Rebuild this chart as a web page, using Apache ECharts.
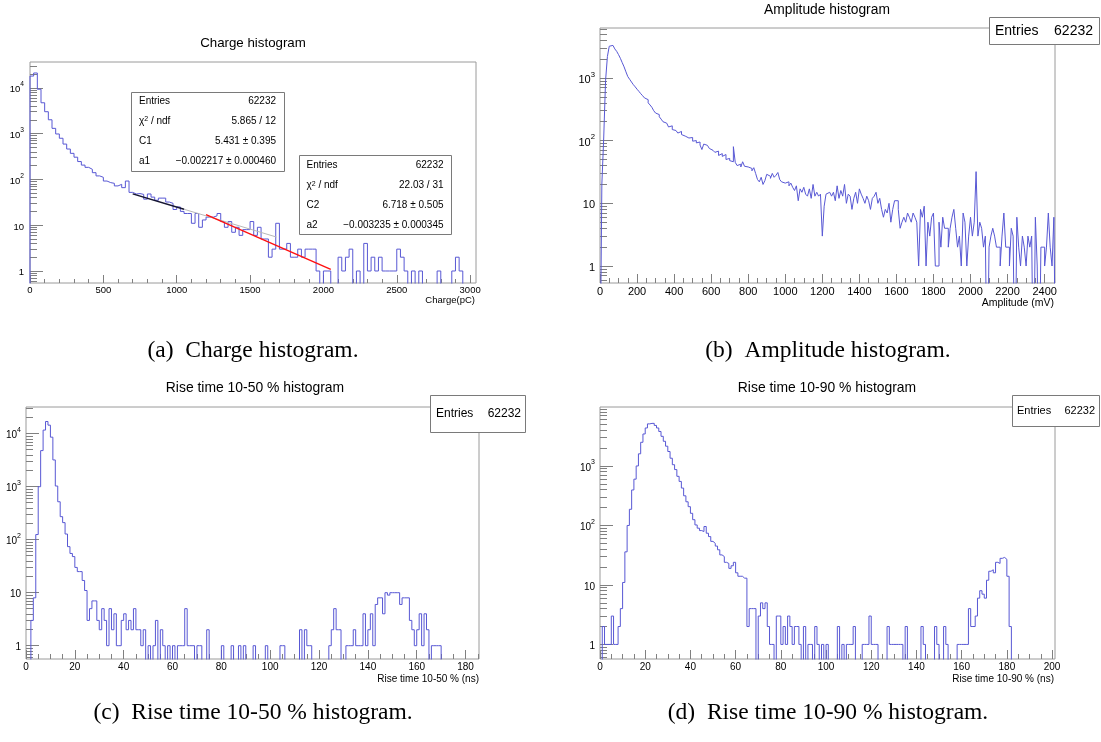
<!DOCTYPE html>
<html><head><meta charset="utf-8">
<script src="https://cdn.jsdelivr.net/npm/echarts@6/dist/echarts.min.js"></script>
<style>html,body{margin:0;padding:0;background:#fff}#c{width:1101px;height:742px}</style>
</head><body><div id="c"></div>
<script>
// ---------------- DATA ----------------
const chargeBinWidth = 25; // pC
const chargeCounts = [
18000,21000,9300,4700,3000,2000,1300,980,790,590,
460,370,305,245,205,183,166,140,119,111,
92,85,82,72,78,66,92,52,48,49,
47,37,48,41,35,39,39,32,30,22,
25,20,18,18,11,18,9,13,15,15,
16,18,12,9,12,7,9,6,8,8,
12,6,9,5,5,2,3,11,3,3,
4,2,2,3,2,3,3,3,1,0,
1,1,0,0,2,1,2,3,0,1,
0,4,1,2,1,2,1,1,1,1,
3,2,1,0,1,0,1,0,0,0,
0,1,0,0,0,1,2,1,0,0,
0,0];

const amplitudeBinWidth = 10; // mV
const amplitudeCounts = [
0,20,110,900,2200,3200,3300,3150,2900,2650,
2350,2050,1750,1500,1250,1050,950,860,780,720,
660,610,560,520,480,450,400,370,340,300,
275,260,240,220,200,190,180,165,172,150,
145,150,132,140,125,118,125,110,105,112,
98,100,92,95,85,72,88,84,86,75,
70,72,65,68,58,62,56,60,50,52,
48,46,80,45,40,42,38,46,39,38,
40,36,33,37,30,24,22,26,20,23,
29,27,25,30,26,28,31,24,22,21,
20,22,19,21,18,16,19,11,17,15,
18,14,13,17,12,20,13,15,13,14,
3,9,14,15,16,13,15,11,19,12,
16,13,20,10,14,13,8,12,15,10,
17,14,12,10,13,11,8,12,13,15,
10,12,8,6,8,7,10,5,8,11,
11,8,4,5,6,5,7,6,5,7,
6,5,1,8,6,9,1,5,3,6,
7,1,1,5,2,6,4,4,2,4,
6,8,4,2,3,1,7,5,1,3,
6,3,5,32,3,5,4,2,3,0,
2,3,4,3,2,2,1,3,7,2,
2,1,4,3,0,6,2,1,3,2,
1,3,2,3,0,6,1,0,2,2,
1,2,7,2,1,6];

const rise1050BinWidth = 1; // ns
const rise1050Counts = [
0,0,3,8,125,1000,4800,11700,17000,14500,
8600,3200,1030,520,272,210,128,74,55,48,
30,25,25,17,11,3,5,7,7,3,
2,5,3,1,5,2,4,1,1,3,
4,2,3,2,5,2,2,1,2,0,
1,0,1,3,0,2,1,0,1,0,
1,0,1,1,1,5,1,1,1,0,
1,1,0,0,2,0,0,0,0,0,
1,0,0,0,1,0,0,1,0,1,
0,0,0,1,0,0,0,0,1,0,
0,0,0,0,1,1,0,0,0,0,
0,0,2,0,2,1,1,0,0,0,
0,0,0,0,1,2,5,2,2,0,
0,1,1,1,2,1,1,1,4,1,
2,4,1,6,8,8,4,10,9,10,
10,10,10,6,8,8,8,3,2,1,
2,4,1,4,2,0,1,1,1,1,
0,0,0,0,0,0,0,0,0,0,
0,0,0,0,0,0];

const rise1090BinWidth = 1; // ns
const rise1090Counts = [
0,2,1,1,1,3,1,1,2,4,
11,36,100,187,395,600,1000,1600,2500,3450,
4350,5100,5200,5200,4800,4350,3800,3150,2600,2150,
1750,1350,1050,870,670,550,425,315,250,207,
160,125,102,90,82,79,96,74,65,54,
50,45,39,32,30,24,23,19,21,24,
16,14,14,13,13,2,4,4,4,0,
3,5,4,5,2,1,1,0,3,3,
1,2,1,3,2,1,2,2,1,0,
2,0,1,1,0,2,1,0,1,0,
1,0,0,0,0,2,0,1,0,1,
1,1,2,0,0,0,1,1,1,3,
1,1,1,0,0,0,0,2,1,1,
1,1,1,1,0,2,0,0,0,0,
0,0,2,1,0,0,0,0,2,1,
0,0,2,1,0,0,0,0,1,1,
1,1,1,4,2,2,3,6,8,7,
6,12,17,18,16,24,23,28,29,27,
14,2,0,0,0,0,0,0,0,0,
0,0,0,0,0,0,0,0,0,0,
0,0];

const chargeTicks = [0,500,1000,1500,2000,2500,3000];
const amplitudeTicks = [0,200,400,600,800,1000,1200,1400,1600,1800,2000,2200,2400];
const rise1050Ticks = [0,20,40,60,80,100,120,140,160,180];
const rise1090Ticks = [0,20,40,60,80,100,120,140,160,180,200];
const decadeTicks = [1,10,100,1000,10000];

const fit1 = {C: 5.431, a: -0.002217, from: 700, to: 1050, drawTo: 1680};
const fit2 = {C: 6.718, a: -0.003235, from: 1200, to: 2050};

const titles = ['Charge histogram','Amplitude histogram','Rise time 10-50 % histogram','Rise time 10-90 % histogram'];
const axisTitles = ['Charge(pC)','Amplitude (mV)','Rise time 10-50 % (ns)','Rise time 10-90 % (ns)'];
const captions = ['(a)  Charge histogram.','(b)  Amplitude histogram.','(c)  Rise time 10-50 % histogram.','(d)  Rise time 10-90 % histogram.'];
const stats1Labels = ['Entries','χ{s|2} / ndf','C1','a1'];
const stats1Values = ['62232','5.865 / 12','5.431 ± 0.395','−0.002217 ± 0.000460'];
const stats2Labels = ['Entries','χ{s|2} / ndf','C2','a2'];
const stats2Values = ['62232','22.03 / 31','6.718 ± 0.505','−0.003235 ± 0.000345'];
const entriesValue = '62232';

// ---------------- LAYOUT / STYLE ----------------
const SANS = 'Liberation Sans, Arial, Helvetica, sans-serif';
const SERIF = 'Liberation Serif, Times New Roman, serif';
const HIST = '#5858d4';
const FRAME = '#9a9a9a';
const TICK = '#808080';
const ZERO = 0.01;

const panels = [
  {left:30, top:62, width:446, height:221, xMin:0, xMax:3040, yMin:0.547, yMax:36500,
   majors: chargeTicks, minorStep:100, fs:9.5, xMargin:2, yMargin:6, yMajLen:13, yMinLen:7, xMajLen:8, xMinLen:4,
   counts: chargeCounts, bw: chargeBinWidth,
   titleX:253, titleY:43.5, titleFs:13.3, axT:[475,300,9.5], capX:253, capY:351},
  {left:600, top:28, width:455, height:255, xMin:0, xMax:2456, yMin:0.536, yMax:6250,
   majors: amplitudeTicks, minorStep:50, fs:11, xMargin:3, yMargin:5, yMajLen:13, yMinLen:7, xMajLen:9, xMinLen:5,
   counts: amplitudeCounts, bw: amplitudeBinWidth,
   titleX:827, titleY:10, titleFs:13.8, axT:[1054,303,10.5], capX:828, capY:351},
  {left:26, top:407, width:453, height:252, xMin:0, xMax:185.5, yMin:0.561, yMax:31900,
   majors: rise1050Ticks, minorStep:5, fs:10, xMargin:3, yMargin:5, yMajLen:13, yMinLen:7, xMajLen:9, xMinLen:5,
   counts: rise1050Counts, bw: rise1050BinWidth,
   titleX:255, titleY:388, titleFs:13.9, axT:[479,679,10], capX:253, capY:713},
  {left:600, top:407, width:455, height:252, xMin:0, xMax:201.3, yMin:0.569, yMax:9800,
   majors: rise1090Ticks, minorStep:5, fs:10, xMargin:3, yMargin:5, yMajLen:13, yMinLen:7, xMajLen:9, xMinLen:5,
   counts: rise1090Counts, bw: rise1090BinWidth,
   titleX:827, titleY:388, titleFs:13.9, axT:[1054,679,10], capX:828, capY:713}
];

function steps(counts, w) {
  const d = [[0, ZERO]];
  counts.forEach((c, i) => d.push([i * w, c > 0 ? c : ZERO]));
  d.push([counts.length * w, ZERO]);
  return d;
}
function minorX(p) {
  const out = [];
  const n = Math.floor(p.xMax / p.minorStep + 1e-9);
  for (let k = 0; k <= n; k++) {
    const v = +(k * p.minorStep).toFixed(6);
    if (p.majors.indexOf(v) < 0) out.push(v);
  }
  return out;
}
function minorY(p) {
  const out = [];
  for (let e = -1; e <= 5; e++) for (let m = 2; m <= 9; m++) {
    const v = +(m * Math.pow(10, e)).toPrecision(6);
    if (v > p.yMin && v < p.yMax) out.push(v);
  }
  return out;
}
function logLabel(v) {
  const e = Math.round(Math.log10(v));
  if (e === 0) return '{b|1}';
  if (e === 1) return '{b|10}';
  return '{b|10}{s|' + e + '}';
}

const grids = [], xAxes = [], yAxes = [], series = [], graphics = [];
panels.forEach((p, i) => {
  grids.push({left:p.left, top:p.top, width:p.width, height:p.height, show:true,
    borderColor:FRAME, borderWidth:1, backgroundColor:'transparent', outerBoundsMode:'none', containLabel:false});
  const xBase = {type:'value', gridIndex:i, min:p.xMin, max:p.xMax, position:'bottom',
    axisLine:{show:false}, splitLine:{show:false}, minorTick:{show:false}};
  xAxes.push(Object.assign({}, xBase, {
    axisTick:{show:true, inside:true, length:p.xMajLen, customValues:p.majors, lineStyle:{color:TICK}},
    axisLabel:{show:true, customValues:p.majors, formatter:v => String(v), fontSize:p.fs, fontFamily:SANS,
      color:'#000', margin:p.xMargin}
  }));
  xAxes.push(Object.assign({}, xBase, {
    axisTick:{show:true, inside:true, length:p.xMinLen, customValues:minorX(p), lineStyle:{color:TICK}},
    axisLabel:{show:false}
  }));
  const yBase = {type:'log', logBase:10, gridIndex:i, min:p.yMin, max:p.yMax, position:'left',
    axisLine:{show:false}, splitLine:{show:false}, minorTick:{show:false}};
  const dec = decadeTicks.filter(v => v >= p.yMin && v <= p.yMax);
  yAxes.push(Object.assign({}, yBase, {
    axisTick:{show:true, inside:true, length:p.yMajLen, customValues:dec, lineStyle:{color:TICK}},
    axisLabel:{show:true, customValues:dec, formatter:logLabel, color:'#000', margin:p.yMargin,
      fontSize:p.fs, fontFamily:SANS,
      rich:{b:{fontSize:p.fs, fontFamily:SANS, color:'#000', lineHeight:p.fs + 4, verticalAlign:'bottom'},
            s:{fontSize:p.fs * 0.7, fontFamily:SANS, color:'#000', lineHeight:p.fs * 0.7, verticalAlign:'top'}}}
  }));
  yAxes.push(Object.assign({}, yBase, {
    axisTick:{show:true, inside:true, length:p.yMinLen, customValues:minorY(p), lineStyle:{color:TICK}},
    axisLabel:{show:false}
  }));
  series.push({type:'line', xAxisIndex:2 * i, yAxisIndex:2 * i, data:steps(p.counts, p.bw), step:'end',
    symbol:'none', showSymbol:false, clip:true, silent:true, animation:false,
    lineStyle:{color:HIST, width:1}, z:2});

  graphics.push({type:'text', x:p.titleX, y:p.titleY, z:100,
    style:{text:titles[i], fontSize:p.titleFs, fontFamily:SANS, fill:'#000', align:'center', verticalAlign:'middle'}});
  graphics.push({type:'text', x:p.axT[0], y:p.axT[1], z:100,
    style:{text:axisTitles[i], fontSize:p.axT[2], fontFamily:SANS, fill:'#000', align:'right', verticalAlign:'middle'}});
  graphics.push({type:'text', x:p.capX, y:p.capY, z:100,
    style:{text:captions[i], fontSize:23.5, fontFamily:SERIF, fill:'#000', align:'center', verticalAlign:'middle'}});
});

// fit curves on the charge histogram (expo: exp(C + a*x))
const f1 = x => Math.exp(fit1.C + fit1.a * x);
const f2 = x => Math.exp(fit2.C + fit2.a * x);
series.push({type:'line', xAxisIndex:0, yAxisIndex:0, data:[[fit1.to, f1(fit1.to)], [fit1.drawTo, f1(fit1.drawTo)]],
  symbol:'none', silent:true, animation:false, lineStyle:{color:'#b8b8b8', width:1}, z:3});
series.push({type:'line', xAxisIndex:0, yAxisIndex:0, data:[[fit1.from, f1(fit1.from)], [fit1.to, f1(fit1.to)]],
  symbol:'none', silent:true, animation:false, lineStyle:{color:'#151530', width:1.4}, z:4});
series.push({type:'line', xAxisIndex:0, yAxisIndex:0, data:[[fit2.from, f2(fit2.from)], [fit2.to, f2(fit2.to)]],
  symbol:'none', silent:true, animation:false, lineStyle:{color:'#ff1010', width:1.4}, z:4});

// stats boxes
function statsBox(bx, by, bw, bh, rows, labels, values, lx, rx, fs) {
  graphics.push({type:'rect', z:90, shape:{x:bx, y:by, width:bw, height:bh},
    style:{fill:'#fff', stroke:'#7a7a7a', lineWidth:1}});
  labels.forEach((t, k) => {
    graphics.push({type:'text', x:lx, y:rows[k], z:100,
      style:{text:t, fontSize:fs, fontFamily:SANS, fill:'#000', align:'left', verticalAlign:'middle',
        rich:{s:{fontSize:fs * 0.7, fontFamily:SANS, fill:'#000', lineHeight:fs * 0.7, verticalAlign:'top'}}}});
    graphics.push({type:'text', x:rx, y:rows[k], z:100,
      style:{text:values[k], fontSize:fs, fontFamily:SANS, fill:'#000', align:'right', verticalAlign:'middle'}});
  });
}
statsBox(131.5, 92.5, 153, 79, [101.5, 121, 141, 161.5], stats1Labels, stats1Values, 139, 276, 10);
statsBox(299.5, 155.5, 152, 79, [165.5, 185.5, 205, 225], stats2Labels, stats2Values, 306.5, 443.5, 10);
statsBox(989.5, 17.5, 110, 27, [31], ['Entries'], [entriesValue], 995, 1093, 14);
statsBox(430.5, 395.5, 95, 37, [414], ['Entries'], [entriesValue], 436, 521, 12);
statsBox(1012.5, 395.5, 87, 31, [411], ['Entries'], [entriesValue], 1017, 1095, 11);

const chart = echarts.init(document.getElementById('c'), null, {renderer:'canvas', width:1101, height:742});
chart.setOption({
  animation:false,
  backgroundColor:'#fff',
  grid:grids, xAxis:xAxes, yAxis:yAxes, series:series, graphic:graphics
});
</script>
</body></html>
